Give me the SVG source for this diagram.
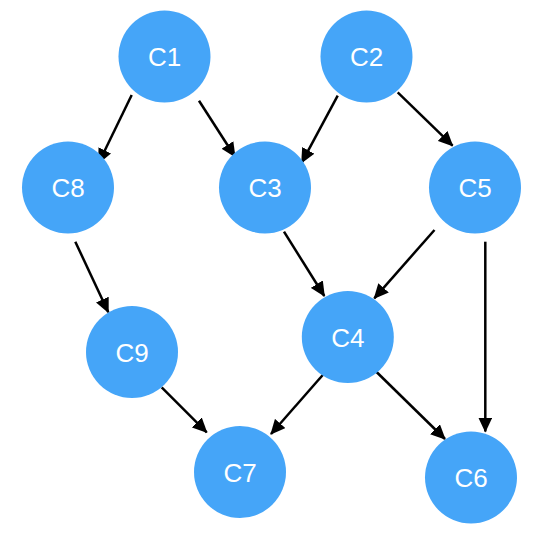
<svg xmlns="http://www.w3.org/2000/svg" width="556" height="542" viewBox="0 0 556 542">
  <style>
    .node circle { fill: #45a5f8; }
    .node text { fill: #ffffff; font-family: "Liberation Sans", Arial, Helvetica, sans-serif; font-size: 26px; text-anchor: middle; }
    .edge { stroke: #000000; stroke-width: 2.5; fill: none; marker-end: url(#arrow); }
  </style>
  <defs>
    <!-- filled triangular head, 15px long and 14px wide -->
    <marker id="arrow" markerWidth="15" markerHeight="14" refX="14" refY="7" orient="auto" markerUnits="userSpaceOnUse">
      <path d="M0,0 L15,7 L0,14 Z" fill="#000000"/>
    </marker>
  </defs>
  <rect width="556" height="542" fill="#ffffff"/>

  <g id="connectors">
    <line class="edge" x1="131.7" y1="95" x2="98.7" y2="163"/>
    <line class="edge" x1="199" y1="100.7" x2="235" y2="156.7"/>
    <line class="edge" x1="337.7" y1="95.7" x2="301.7" y2="162.7"/>
    <line class="edge" x1="397.7" y1="92.3" x2="452.6" y2="145.7"/>
    <line class="edge" x1="75.3" y1="241.7" x2="108.3" y2="312.3"/>
    <line class="edge" x1="284" y1="231.7" x2="324.3" y2="296"/>
    <line class="edge" x1="434.5" y1="230" x2="374.3" y2="298.3"/>
    <line class="edge" x1="485.3" y1="241.7" x2="485.3" y2="431.5"/>
    <line class="edge" x1="161.7" y1="387.3" x2="206.7" y2="432.3"/>
    <line class="edge" x1="330" y1="366.7" x2="271" y2="434"/>
    <line class="edge" x1="364.3" y1="360" x2="445" y2="439"/>
  </g>

  <g id="C1" class="node"><circle cx="164.5" cy="56.5" r="46"/><text x="164.5" y="66">C1</text></g>
  <g id="C2" class="node"><circle cx="366.5" cy="56.5" r="46"/><text x="366.5" y="66">C2</text></g>
  <g id="C8" class="node"><circle cx="68" cy="187.5" r="46"/><text x="68" y="197">C8</text></g>
  <g id="C3" class="node"><circle cx="265" cy="187.5" r="46"/><text x="265" y="197">C3</text></g>
  <g id="C5" class="node"><circle cx="475" cy="187.5" r="46"/><text x="475" y="197">C5</text></g>
  <g id="C9" class="node"><circle cx="132" cy="352" r="46"/><text x="132" y="361.5">C9</text></g>
  <g id="C4" class="node"><circle cx="347.8" cy="337" r="46"/><text x="347.8" y="346.5">C4</text></g>
  <g id="C7" class="node"><circle cx="240" cy="472" r="46"/><text x="240" y="481.5">C7</text></g>
  <g id="C6" class="node"><circle cx="471" cy="477.5" r="46"/><text x="471" y="487">C6</text></g>
</svg>
